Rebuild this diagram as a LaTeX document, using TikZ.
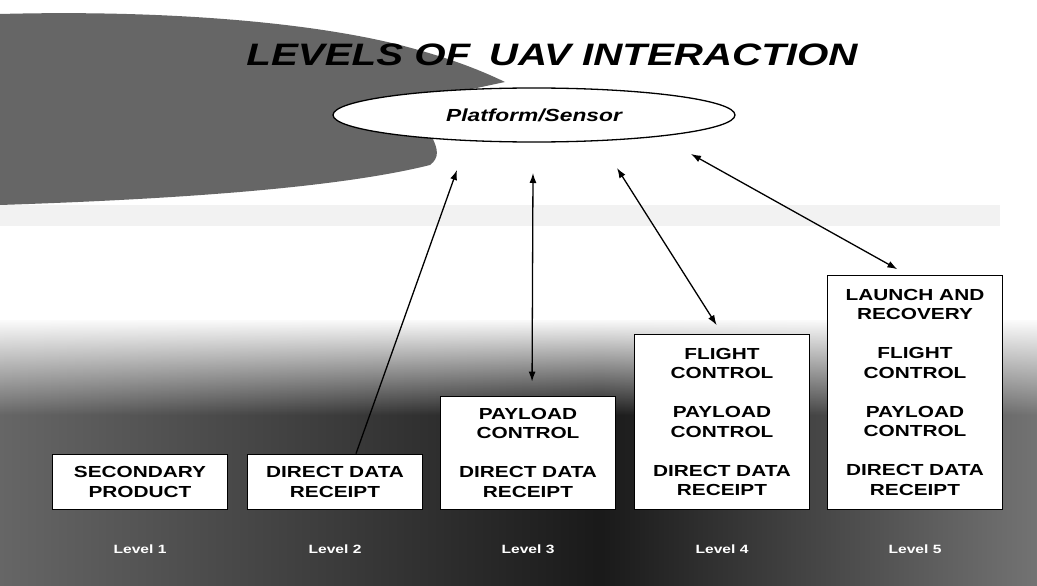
\documentclass[tikz,border=0pt]{standalone}
\usepackage{fontspec}
\usetikzlibrary{shapes.geometric,arrows.meta,fadings}
\newfontfamily\uavfont[FakeStretch=1.3]{Liberation Sans}

\begin{document}
\begin{tikzpicture}[x=1pt,y=-1pt,
    >={Latex[length=10pt,width=7pt]},
    levelbox/.style={draw, line width=1.4pt, fill=white, minimum width=175pt,
        inner sep=0pt, anchor=south, align=center,
        font=\uavfont\bfseries\fontsize{16}{19.5}\selectfont},
    levellabel/.style={text=white, font=\uavfont\bfseries\fontsize{12}{14}\selectfont},
    link/.style={line width=1.3pt}]
    \useasboundingbox (0,0) rectangle (1037,586);

    % Draw background: sky, clouds and sea
    \fill[white] (0,0) rectangle (1037,586);
    \fill[black!60] (0,14) .. controls (150,10) and (300,20) .. (400,45)
        .. controls (450,58) and (480,70) .. (505,82)
        -- (420,100) .. controls (420,130) and (450,150) .. (430,165)
        .. controls (330,190) and (150,200) .. (0,205) -- cycle;
    \fill[black!5] (0,205) rectangle (1000,226);
    \shade[left color=black!60, right color=black!90] (0,320) rectangle (600,586);
    \shade[left color=black!90, right color=black!55] (600,320) rectangle (1037,586);
    \fill[white, path fading=south] (0,318) rectangle (1037,415);

    % Draw title and platform
    \node[font=\uavfont\bfseries\itshape\fontsize{31}{36}\selectfont] (title) at (552,55)
        {LEVELS OF\hspace{0.6em}UAV INTERACTION};
    \node[draw, ellipse, line width=1.3pt, fill=white, minimum width=402pt, minimum height=54pt,
        font=\uavfont\bfseries\itshape\fontsize{17.5}{20}\selectfont] (platform) at (534,115) {Platform/Sensor};

    % Draw level boxes
    \node[levelbox, minimum height=55pt] (box1) at (140,510) {SECONDARY\\PRODUCT};
    \node[levelbox, minimum height=55pt] (box2) at (335,510) {DIRECT DATA\\RECEIPT};
    \node[levelbox, minimum height=113pt] (box3) at (528,510)
        {PAYLOAD\\CONTROL\\[19.5pt]DIRECT DATA\\RECEIPT};
    \node[levelbox, minimum height=175pt] (box4) at (722,510)
        {FLIGHT\\CONTROL\\[19.5pt]PAYLOAD\\CONTROL\\[19.5pt]DIRECT DATA\\RECEIPT};
    \node[levelbox, minimum height=234pt] (box5) at (915,510)
        {LAUNCH AND\\RECOVERY\\[19.5pt]FLIGHT\\CONTROL\\[19.5pt]PAYLOAD\\CONTROL\\[19.5pt]DIRECT DATA\\RECEIPT};

    % Add level labels
    \foreach \n/\x in {1/140,2/335,3/528,4/722,5/915}
        \node[levellabel] (lvl\n) at (\x,549) {Level \n};

    % Draw links to the platform
    \coordinate (tip2) at (457,170);
    \coordinate (tip3) at (533,173);
    \coordinate (tip4) at (617,168);
    \coordinate (tip5) at (691,154);
    \draw[link, <-] (tip2) -- ([xshift=21pt]box2.north);
    \draw[link, <->, shorten >=14pt] (tip3) -- ([xshift=4pt]box3.north);
    \draw[link, <->, shorten >=10pt] (tip4) -- (box4.north);
    \draw[link, <->, shorten >=11pt] (tip5) -- ([xshift=-8pt]box5.north);
\end{tikzpicture}
\end{document}
